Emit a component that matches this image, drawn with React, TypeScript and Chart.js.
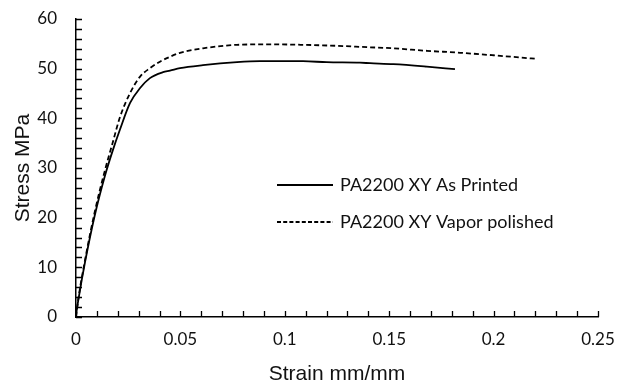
import React, { useEffect, useRef } from "react";
import { Chart, registerables } from "chart.js";

Chart.register(...registerables);

// PA2200 XY As Printed
const strainPrinted = [0, 0.0011, 0.0043, 0.009, 0.0139, 0.0175, 0.0211, 0.0259, 0.0307, 0.0354, 0.0417, 0.045, 0.0498, 0.0608, 0.0771, 0.088, 0.0929, 0.1087, 0.12, 0.136, 0.1408, 0.152, 0.168, 0.1815];
const stressPrinted = [0.4, 3.4, 11.0, 20.5, 28.5, 33.4, 37.8, 43.1, 46.1, 48.1, 49.3, 49.6, 50.1, 50.7, 51.3, 51.5, 51.5, 51.5, 51.3, 51.2, 51.1, 50.9, 50.4, 49.9];

// PA2200 XY Vapor polished
const strainPolished = [0, 0.0011, 0.0043, 0.009, 0.0139, 0.0175, 0.0211, 0.0259, 0.0307, 0.0354, 0.0402, 0.045, 0.0498, 0.0608, 0.0771, 0.0929, 0.1087, 0.125, 0.1408, 0.1518, 0.168, 0.184, 0.1997, 0.2198];
const stressPolished = [0, 3.6, 11.4, 21.2, 29.6, 35.0, 40.3, 45.1, 48.4, 50.1, 51.4, 52.4, 53.2, 54.1, 54.8, 54.9, 54.8, 54.6, 54.3, 54.1, 53.6, 53.2, 52.7, 52.0];

const seriesLabels = ["PA2200 XY As Printed", "PA2200 XY Vapor polished"];
const xTitle = "Strain mm/mm";
const yTitle = "Stress MPa";

const inwardTicks = {
  id: "inwardTicks",
  afterDraw(chart: any) {
    const ctx = chart.ctx;
    const xs = chart.scales.x;
    const ys = chart.scales.y;
    ctx.save();
    ctx.strokeStyle = "#000";
    ctx.lineWidth = 1.3;
    ctx.beginPath();
    xs.ticks.forEach((t: any) => {
      const px = Math.round(xs.getPixelForValue(t.value)) + 0.5;
      ctx.moveTo(px, ys.bottom);
      ctx.lineTo(px, ys.bottom - 6);
    });
    ys.ticks.forEach((t: any) => {
      const py = Math.round(ys.getPixelForValue(t.value)) + 0.5;
      ctx.moveTo(xs.left, py);
      ctx.lineTo(xs.left + 6, py);
    });
    ctx.stroke();
    ctx.restore();
  },
};

const customLegend = {
  id: "customLegend",
  afterDraw(chart: any) {
    const ctx = chart.ctx;
    const a = chart.chartArea;
    const x0 = a.left + 201;
    const rows = [a.top + 166, a.top + 203];
    ctx.save();
    chart.data.datasets.forEach((ds: any, i: number) => {
      const y = rows[i];
      ctx.strokeStyle = "#000";
      ctx.lineWidth = ds.borderWidth;
      ctx.setLineDash(i === 1 ? [4, 2.2] : []);
      ctx.beginPath();
      ctx.moveTo(x0, y);
      ctx.lineTo(x0 + 56, y);
      ctx.stroke();
      ctx.setLineDash([]);
      ctx.fillStyle = "#111";
      ctx.font = "18px Lato";
      ctx.textBaseline = "middle";
      ctx.textAlign = "left";
      ctx.fillText(ds.label, x0 + 63, y + 0.5);
    });
    ctx.restore();
  },
};

export default function App() {
  const ref = useRef<HTMLCanvasElement>(null);
  useEffect(() => {
    if (!ref.current) return;
    const chart = new Chart(ref.current, {
      type: "line",
      data: {
        datasets: [
          {
            label: seriesLabels[0],
            data: strainPrinted.map((x, i) => ({ x, y: stressPrinted[i] })),
            borderColor: "#000",
            borderWidth: 1.8,
            pointRadius: 0,
            cubicInterpolationMode: "monotone",
            fill: false,
          },
          {
            label: seriesLabels[1],
            data: strainPolished.map((x, i) => ({ x, y: stressPolished[i] })),
            borderColor: "#000",
            borderWidth: 1.8,
            borderDash: [5, 3],
            pointRadius: 0,
            cubicInterpolationMode: "monotone",
            fill: false,
          },
        ],
      },
      options: {
        animation: false,
        responsive: false,
        maintainAspectRatio: false,
        layout: { padding: { top: 19, right: 19, left: 0, bottom: 0 } },
        plugins: { legend: { display: false }, tooltip: { enabled: false } },
        scales: {
          x: {
            type: "linear",
            min: 0,
            max: 0.25,
            afterFit: (s: any) => { s.height = 67; s.paddingLeft = 0; s.paddingRight = 0; },
            border: { display: true, color: "#000", width: 1.5 },
            grid: { display: true, drawOnChartArea: false, drawTicks: false },
            ticks: {
              stepSize: 0.01,
              autoSkip: false,
              maxRotation: 0,
              padding: 12,
              color: "#111",
              font: { family: "Lato", size: 17 },
              callback: (v: any) => {
                const h = Math.round(Number(v) * 100);
                return h % 5 === 0 ? String(h / 100) : "";
              },
            },
            title: {
              display: true,
              text: xTitle,
              color: "#111",
              font: { family: "Liberation Sans", size: 21 },
              padding: { top: 0, bottom: -3 },
            },
          },
          y: {
            type: "linear",
            min: 0,
            max: 60,
            afterFit: (s: any) => { s.width = 76; s.paddingTop = 0; s.paddingBottom = 0; },
            border: { display: true, color: "#000", width: 1.5 },
            grid: { display: true, drawOnChartArea: false, drawTicks: false },
            ticks: {
              stepSize: 2,
              autoSkip: false,
              padding: 19,
              color: "#111",
              font: { family: "Lato", size: 17 },
              callback: (v: any) => {
                const n = Math.round(Number(v));
                return n % 10 === 0 ? String(n) : "";
              },
            },
            title: {
              display: true,
              text: yTitle,
              color: "#111",
              font: { family: "Liberation Sans", size: 21 },
              padding: { top: 11, bottom: 0 },
            },
          },
        },
      },
      plugins: [inwardTicks, customLegend],
    });
    return () => chart.destroy();
  }, []);
  return (
    <div style={{ position: "absolute", left: 0, top: 0, width: 617, height: 384, background: "#fff" }}>
      <canvas ref={ref} width={617} height={384} style={{ width: 617, height: 384 }} />
    </div>
  );
}
